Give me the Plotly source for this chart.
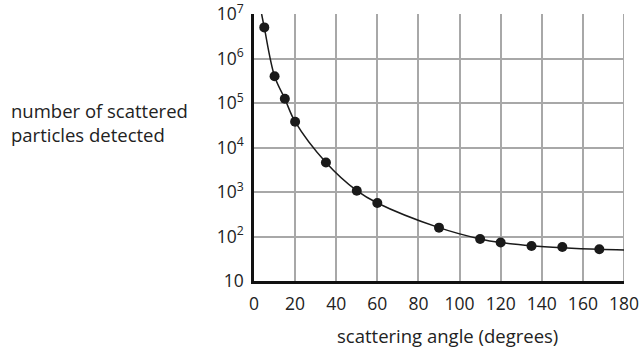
import plotly.graph_objects as go

# data
angle_deg = [5, 10, 15, 20, 35, 50, 60, 90, 110, 120, 135, 150, 168]
particles = [5.0e6, 4.0e5, 1.25e5, 3.8e4, 4.6e3, 1.07e3, 566, 158, 88, 73, 61, 58, 51.5]

# fitted smooth curve
curve_angle = [3.7, 5, 10, 15, 20, 35, 50, 60, 90, 110, 120, 135, 150, 168, 180]
curve_count = [1.0e7, 5.0e6, 4.0e5, 1.25e5, 3.8e4, 4.6e3, 1.07e3, 566, 158, 88, 73, 62, 56, 51.5, 50]

x_ticks = [0, 20, 40, 60, 80, 100, 120, 140, 160, 180]
y_tickvals = [10, 1e2, 1e3, 1e4, 1e5, 1e6, 1e7]
y_ticktext = ["10", "10<sup>2</sup>", "10<sup>3</sup>", "10<sup>4</sup>",
              "10<sup>5</sup>", "10<sup>6</sup>", "10<sup>7</sup>"]

FONT = "Open Sans, Lato, sans-serif"
TXT = "#222222"

fig = go.Figure()
fig.add_trace(go.Scatter(x=curve_angle, y=curve_count, mode="lines",
                         line=dict(color="#1a1a1a", width=1.5, shape="spline", smoothing=1.0),
                         hoverinfo="skip", showlegend=False))
fig.add_trace(go.Scatter(x=angle_deg, y=particles, mode="markers",
                         marker=dict(color="#1a1a1a", size=10),
                         showlegend=False))

fig.update_xaxes(range=[0, 180], tickvals=x_ticks, ticktext=[str(t) for t in x_ticks],
                 showgrid=True, gridcolor="#a8a8a8", gridwidth=2,
                 showline=True, linecolor="#111", linewidth=2.5,
                 zeroline=False, ticks="", ticklen=0, automargin=False,
                 ticklabelstandoff=5, ticklabeloverflow="allow",
                 tickfont=dict(family=FONT, size=17.5, color=TXT))
fig.update_yaxes(type="log", range=[1, 7], tickvals=y_tickvals, ticktext=y_ticktext,
                 showgrid=True, gridcolor="#a8a8a8", gridwidth=2,
                 showline=True, linecolor="#111", linewidth=2.5,
                 zeroline=False, ticks="", ticklen=0, automargin=False,
                 ticklabelstandoff=4, ticklabeloverflow="allow",
                 tickfont=dict(family=FONT, size=17.5, color=TXT))

fig.add_annotation(text="number of scattered<br>particles detected",
                   xref="paper", yref="paper", x=-0.662, y=0.595,
                   xanchor="left", yanchor="middle", align="left",
                   showarrow=False, font=dict(family=FONT, size=18.5, color=TXT))
fig.add_annotation(text="scattering angle (degrees)",
                   xref="paper", yref="paper", x=0.522, y=-0.205,
                   xanchor="center", yanchor="middle",
                   showarrow=False, font=dict(family=FONT, size=18.5, color=TXT))

# right border grid line at 180
fig.add_shape(type="line", xref="x", yref="paper", x0=180, x1=180, y0=0, y1=1,
              line=dict(color="#a8a8a8", width=2), layer="below")

fig.update_layout(width=641, height=348,
                  margin=dict(l=254, r=17, t=14, b=67),
                  plot_bgcolor="white", paper_bgcolor="white")

# remove the default page margin so the figure sits at the window's corner
fig.write_html("out.html", config={"displayModeBar": False},
               post_script="document.body.style.margin='0';document.body.style.overflow='hidden';")
